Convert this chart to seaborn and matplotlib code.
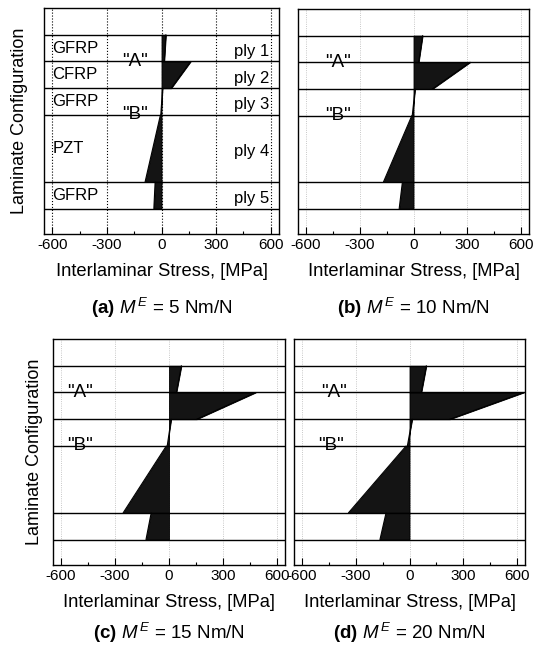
import numpy as np
import pandas as pd
import seaborn as sns
import matplotlib.pyplot as plt

# moment per panel
moments = [5, 10, 15, 20]
panel_tags = ['(a)', '(b)', '(c)', '(d)']

# laminate layup (depth measured downward, in ply units)
ply_materials = ['GFRP', 'CFRP', 'GFRP', 'PZT', 'GFRP']
ply_names = ['ply 1', 'ply 2', 'ply 3', 'ply 4', 'ply 5']
ply_bounds = [0, 1, 2, 3, 5.5, 6.5]

# interlaminar stress at top / bottom of each ply [MPa]
top_5 = [24, 160, 6, -6, -35]
bot_5 = [15, 53, -4, -90, -42]
top_10 = [51, 316, 9, -9, -62]
bot_10 = [29, 106, -7, -168, -80]
top_15 = [69, 482, 12, -15, -99]
bot_15 = [41, 154, -10, -255, -128]
top_20 = [94, 638, 15, -19, -131]
bot_20 = [66, 225, -12, -341, -165]

# "A" / "B" label x positions per panel
label_a_x = [-145, -424, -497, -422]
label_b_x = [-145, -424, -497, -441]

tops = [top_5, top_10, top_15, top_20]
bots = [bot_5, bot_10, bot_15, bot_20]
rows = []
for m, t, b in zip(moments, tops, bots):
    for k in range(len(ply_names)):
        rows.append({'moment': m, 'ply': k, 'depth': ply_bounds[k], 'stress': t[k]})
        rows.append({'moment': m, 'ply': k, 'depth': ply_bounds[k + 1], 'stress': b[k]})
df = pd.DataFrame(rows)

sns.set_style('ticks')
plt.rcParams['font.family'] = ['Liberation Sans', 'DejaVu Sans']
plt.rcParams['text.color'] = 'k'
plt.rcParams['axes.labelcolor'] = 'k'
plt.rcParams['xtick.color'] = 'k'
plt.rcParams['mathtext.fontset'] = 'custom'
plt.rcParams['mathtext.rm'] = 'Liberation Sans'
plt.rcParams['mathtext.it'] = 'Liberation Sans:italic'
plt.rcParams['mathtext.bf'] = 'Liberation Sans:bold'

W, H = 538, 646
fig = plt.figure(figsize=(W / 100, H / 100), dpi=100)

# axes boxes in pixels: left, top, right, bottom
boxes = [(44, 8, 279, 234), (298, 9, 529, 234), (53, 339, 285, 565), (294, 339, 525, 565)]
cap_y = [308, 308, 633, 633]

for i, m in enumerate(moments):
    l, t, r, b = boxes[i]
    ax = fig.add_axes([l / W, 1 - b / H, (r - l) / W, (b - t) / H])
    sub = df[df['moment'] == m]

    for k, g in sub.groupby('ply'):
        ax.fill_betweenx(g['depth'], 0, g['stress'], facecolor='#141414', edgecolor='k', lw=0.6, zorder=2)
    sns.lineplot(data=sub, x='stress', y='depth', units='ply', estimator=None, sort=False,
                 color='k', lw=0.8, ax=ax, legend=False, zorder=3)

    for yb in ply_bounds:
        ax.axhline(yb, color='k', lw=1.0, zorder=4)

    ax.set_xlim(-645, 645)
    ax.set_ylim(7.45, -1.0)
    ax.set_xticks([-600, -300, 0, 300, 600])
    ax.set_xticks(np.arange(-600, 601, 150), minor=True)
    ax.set_xticklabels(['-600', '-300', '0', '300', '600'], fontsize=11)
    ax.set_yticks([])
    ax.tick_params(axis='x', which='major', direction='in', length=5, width=0.8, pad=3)
    ax.tick_params(axis='x', which='minor', direction='in', length=2.5, width=0.8)
    if i == 0:
        ax.grid(axis='x', which='major', ls=':', color='k', lw=0.8)
    else:
        ax.grid(axis='x', which='major', ls=':', color='#b5b5b5', lw=0.6)
    ax.set_axisbelow(True)
    for s in ax.spines.values():
        s.set_color('k')
        s.set_linewidth(1.0)

    ax.set_xlabel('Interlaminar Stress, [MPa]', fontsize=13.2, labelpad=8)
    if i in (0, 2):
        ax.set_ylabel('Laminate Configuration', fontsize=13)
        ax.yaxis.set_label_coords(-0.068 if i == 0 else -0.043, 0.5)
    else:
        ax.set_ylabel('')

    ax.text(label_a_x[i], ply_bounds[1], '"A"', fontsize=13.5, ha='center', va='center', zorder=5)
    ax.text(label_b_x[i], ply_bounds[3], '"B"', fontsize=13.5, ha='center', va='center', zorder=5)

    if i == 0:
        for k in range(len(ply_names)):
            yc = (ply_bounds[k] + ply_bounds[k + 1]) / 2
            ax.text(-600, yc, ply_materials[k], fontsize=12, ha='left', va='center', zorder=5)
            ax.text(590, yc + 0.12, ply_names[k], fontsize=12, ha='right', va='center', zorder=5)

    fig.text((l + r) / 2 / W, 1 - cap_y[i] / H,
             r'$\mathbf{%s}$ $M^{\,E}$ = %d Nm/N' % (panel_tags[i], m),
             ha='center', va='center', fontsize=13.5)

fig.savefig('out.png', dpi=100)
